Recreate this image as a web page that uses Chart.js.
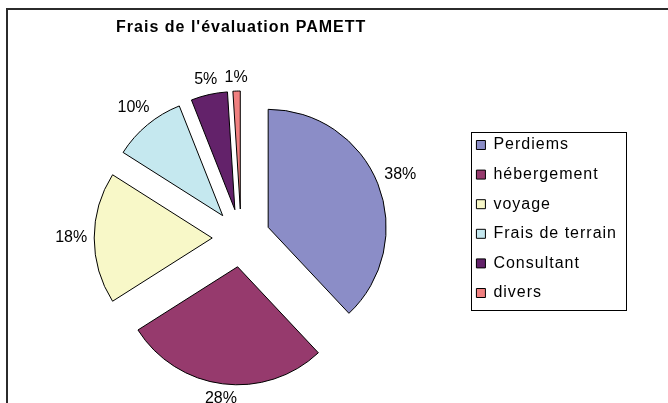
<!DOCTYPE html>
<html>
<head>
<meta charset="utf-8">
<script src="https://cdn.jsdelivr.net/npm/chart.js@4.4.0/dist/chart.umd.min.js"></script>
<style>
  body { margin: 0; background: #fff; overflow: hidden; }
  #wrap { position: relative; width: 668px; height: 403px; }
  #frame { position: absolute; left: 6px; top: 8px; width: 700px; height: 500px;
           border-top: 2px solid #2b2b2b; border-left: 2px solid #2b2b2b; pointer-events: none; }
</style>
</head>
<body>
<div id="wrap">
  <canvas id="cht" width="668" height="403"></canvas>
  <div id="frame"></div>
</div>
<script>
const categories = ["Perdiems", "hébergement", "voyage", "Frais de terrain", "Consultant", "divers"];
const shares = [38, 28, 18, 10, 5, 1];
const sliceColors = ["#8b8dc7", "#963a6d", "#f8f8c8", "#c5e8ef", "#63226a", "#f08080"];
const chartTitle = "Frais de l'évaluation PAMETT";

const explode = 29;
const fontFamily = '"Liberation Sans", Arial, sans-serif';
Chart.defaults.font.family = fontFamily;
Chart.defaults.color = '#000';

// pull every slice away from the centre, like Excel's exploded pie
const explodePlugin = {
  id: 'explode',
  afterDatasetsUpdate(chart) {
    chart.getDatasetMeta(0).data.forEach(arc => {
      const mid = (arc.startAngle + arc.endAngle) / 2;
      arc.x += Math.cos(mid) * explode;
      arc.y += Math.sin(mid) * explode;
    });
  }
};

// a bit of letter spacing for the legend / title text
const spacingPlugin = {
  id: 'spacing',
  beforeLayout(chart) { chart.ctx.letterSpacing = '1px'; },
  beforeDraw(chart) { chart.ctx.letterSpacing = '1px'; }
};

// percentage labels outside each slice
const pctLabels = {
  id: 'pctLabels',
  afterDatasetsDraw(chart) {
    const ctx = chart.ctx;
    const meta = chart.getDatasetMeta(0);
    const total = shares.reduce((a, b) => a + b, 0);
    ctx.save();
    ctx.letterSpacing = '0px';
    ctx.font = '16px ' + fontFamily;
    ctx.fillStyle = '#000';
    ctx.textAlign = 'center';
    ctx.textBaseline = 'middle';
    meta.data.forEach((arc, i) => {
      const text = Math.round(shares[i] / total * 100) + '%';
      const mid = (arc.startAngle + arc.endAngle) / 2;
      const ux = Math.cos(mid), uy = Math.sin(mid);
      const w = ctx.measureText(text).width;
      const d = arc.outerRadius + 7 + w / 2 * Math.abs(ux) + 6 * Math.abs(uy);
      ctx.fillText(text, arc.x + ux * d, arc.y + uy * d);
    });
    ctx.restore();
  }
};

// box around the legend
const legendBox = {
  id: 'legendBox',
  afterDraw(chart) {
    const hb = chart.legend.legendHitBoxes;
    if (!hb || !hb.length) return;
    const ctx = chart.ctx;
    const x1 = Math.round(hb[0].left - 5) + 0.5;
    const y1 = Math.round(hb[0].top - 5) + 0.5;
    const x2 = Math.round(Math.max(...hb.map(b => b.left + b.width)) + 9) + 0.5;
    const last = hb[hb.length - 1];
    const y2 = Math.round(last.top + last.height + 9) + 0.5;
    ctx.save();
    ctx.strokeStyle = '#000';
    ctx.lineWidth = 1;
    ctx.strokeRect(x1, y1, x2 - x1, y2 - y1);
    ctx.restore();
  }
};

new Chart("cht", {
  type: "pie",
  data: {
    labels: categories,
    datasets: [{
      data: shares,
      backgroundColor: sliceColors,
      borderColor: '#000',
      borderWidth: 1,
      hoverBorderWidth: 1
    }]
  },
  options: {
    responsive: false,
    animation: false,
    events: [],
    layout: { padding: { left: 19.6, top: 0, right: 41, bottom: 46.5 } },
    plugins: {
      title: {
        display: true,
        text: chartTitle,
        fullSize: false,
        color: '#000',
        font: { size: 16, weight: 'bold' },
        padding: { top: 18, bottom: 82.3 }
      },
      legend: {
        position: 'right',
        align: 'start',
        // empty legend title only used to push the items down
        title: { display: true, text: '', font: { size: 4, lineHeight: 1 }, padding: { top: 119.4, bottom: 0 } },
        labels: {
          boxWidth: 9,
          boxHeight: 9,
          padding: 13.6,
          color: '#000',
          font: { size: 16 }
        }
      },
      tooltip: { enabled: false }
    }
  },
  plugins: [spacingPlugin, explodePlugin, pctLabels, legendBox]
});
</script>
</body>
</html>
